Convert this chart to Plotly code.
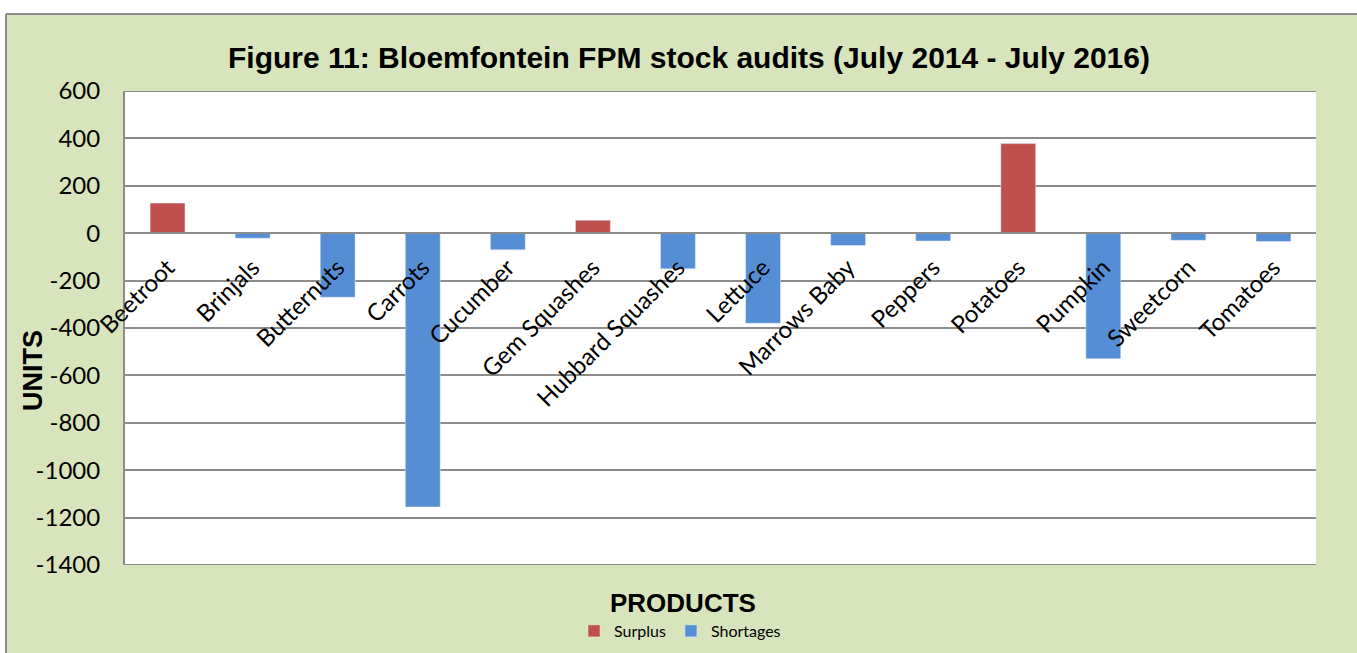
import plotly.graph_objects as go

categories = ["Beetroot", "Brinjals", "Butternuts", "Carrots", "Cucumber", "Gem Squashes",
              "Hubbard Squashes", "Lettuce", "Marrows Baby", "Peppers", "Potatoes",
              "Pumpkin", "Sweetcorn", "Tomatoes"]
surplus = [127, None, None, None, None, 55, None, None, None, None, 378, None, None, None]
shortages = [None, -21, -270, -1155, -70, None, -150, -380, -52, -33, None, -530, -30, -35]
y_ticks = [600, 400, 200, 0, -200, -400, -600, -800, -1000, -1200, -1400]
y_tick_labels = ["600", "400", "200", "0", "-200", "-400", "-600", "-800", "-1000", "-1200", "-1400"]

W, H = 1357, 653
RED = "#C0504D"
BLUE = "#558ED5"
GREEN = "#D8E4BC"
GRID = "#8C8C8C"

px_x = lambda p: p / W
px_y = lambda p: 1 - p / H

fig = go.Figure()
fig.add_trace(go.Bar(x=categories, y=surplus, name="Surplus", marker_color=RED, width=0.41))
fig.add_trace(go.Bar(x=categories, y=shortages, name="Shortages", marker_color=BLUE, width=0.41))

edge_lines = [
    dict(type="line", xref="x domain", yref="y", x0=0, x1=1, y0=y_ticks[0], y1=y_ticks[0],
         line=dict(color=GRID, width=2), layer="below"),
    dict(type="line", xref="x domain", yref="y", x0=0, x1=1, y0=y_ticks[-1], y1=y_ticks[-1],
         line=dict(color=GRID, width=2), layer="below"),
]

fig.update_layout(
    width=W, height=H,
    autosize=False,
    margin=dict(l=0, r=0, t=0, b=0, pad=0, autoexpand=False),
    paper_bgcolor=GREEN,
    plot_bgcolor="white",
    barmode="overlay",
    showlegend=True,
    title=dict(text="<b>Figure 11: Bloemfontein FPM stock audits (July 2014 - July 2016)</b>",
               x=px_x(689), y=px_y(57), xanchor="center", yanchor="middle",
               xref="paper", yref="paper",
               font=dict(family="Liberation Sans, Arial", size=30, color="black")),
    legend=dict(orientation="h", x=px_x(680), y=px_y(631), xanchor="center", yanchor="middle",
                font=dict(family="Lato, Open Sans, sans-serif", size=16, color="black"),
                bgcolor="rgba(0,0,0,0)", itemwidth=30, traceorder="normal"),
    xaxis=dict(domain=[px_x(125), px_x(1316)], anchor="free", position=px_y(233),
               automargin=False,
               showline=True, linecolor=GRID, linewidth=2, showgrid=False,
               tickangle=-45, ticks="", ticklabelstandoff=10,
               categoryorder="array", categoryarray=categories,
               tickfont=dict(family="Lato, Open Sans, sans-serif", size=24, color="black")),
    yaxis=dict(domain=[px_y(565), px_y(91)], range=[-1400, 600],
               tickvals=y_ticks, ticktext=y_tick_labels,
               automargin=False,
               showgrid=True, gridcolor=GRID, gridwidth=2, zeroline=False,
               showline=True, linecolor=GRID, linewidth=2, ticks="",
               ticklabelstandoff=18,
               tickfont=dict(family="Lato, Open Sans, sans-serif", size=24, color="black")),
    annotations=[
        dict(text="<b>UNITS</b>", x=px_x(33), y=px_y(371), xref="paper", yref="paper",
             textangle=-90, showarrow=False, xanchor="center", yanchor="middle",
             font=dict(family="Liberation Sans, Arial", size=27, color="black")),
        dict(text="<b>PRODUCTS</b>", x=px_x(683), y=px_y(603), xref="paper", yref="paper",
             showarrow=False, xanchor="center", yanchor="middle",
             font=dict(family="Liberation Sans, Arial", size=26, color="black")),
    ],
    shapes=edge_lines + [
        dict(type="rect", xref="paper", yref="paper", x0=0, x1=1, y0=px_y(14), y1=1,
             fillcolor="white", line_width=0, layer="above"),
        dict(type="rect", xref="paper", yref="paper", x0=0, x1=px_x(6), y0=0, y1=1,
             fillcolor="white", line_width=0, layer="above"),
        dict(type="line", xref="paper", yref="paper", x0=px_x(6), x1=1, y0=px_y(14), y1=px_y(14),
             line=dict(color=GRID, width=2), layer="above"),
        dict(type="line", xref="paper", yref="paper", x0=px_x(6), x1=px_x(6), y0=0, y1=px_y(14),
             line=dict(color=GRID, width=2), layer="above"),
    ],
)

fig.write_html("out.html",
               config={"displayModeBar": False},
               post_script="document.body.style.margin='0';document.body.style.overflow='hidden';")
